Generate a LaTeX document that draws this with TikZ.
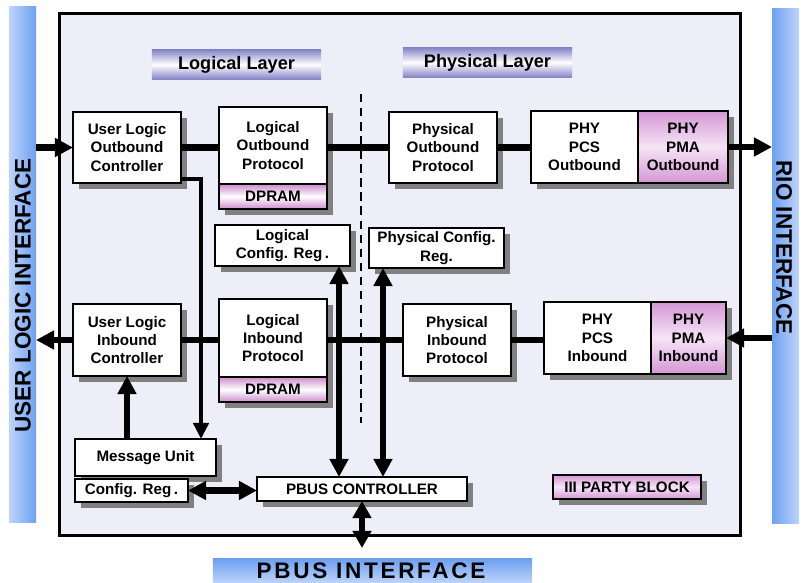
\documentclass[tikz,border=0pt]{standalone}
\usepackage{fontspec}
\setmainfont{Liberation Sans}
\usetikzlibrary{positioning,shadows,arrows.meta}

\definecolor{corebg}{RGB}{238,238,248}
\definecolor{barblue}{RGB}{110,160,240}
\definecolor{barlight}{RGB}{190,212,250}
\definecolor{layerblue}{RGB}{135,135,200}
\definecolor{rampink}{RGB}{205,140,205}
\definecolor{pmapink}{RGB}{212,150,212}
\definecolor{pmalight}{RGB}{246,228,246}
\definecolor{shadowgray}{RGB}{128,128,128}

\begin{document}
\begin{tikzpicture}[x=0.025cm, y=-0.025cm,
  font=\bfseries\fontsize{10.8}{13}\selectfont,
  >={Triangle[length=4.5mm,width=4.5mm]},
  blk/.style={draw, line width=1.2pt, fill=white, align=center, inner sep=1pt, outer sep=0pt,
    drop shadow={shadow xshift=1.5mm, shadow yshift=-1.5mm, fill=shadowgray, opacity=1}},
  proto/.style={blk, minimum width=2.7cm, minimum height=1.8cm},
  ram/.style={blk, top color=rampink, bottom color=rampink, middle color=white,
    minimum width=2.7cm, minimum height=0.625cm},
  pma/.style={blk, top color=pmapink, bottom color=pmapink, middle color=pmalight,
    minimum height=1.8cm},
  layer/.style={inner sep=0pt, top color=layerblue, bottom color=layerblue, middle color=white,
    minimum width=4.225cm, minimum height=0.725cm, font=\bfseries\fontsize{12.9}{15}\selectfont},
  bar/.style={inner sep=0pt, outer sep=0pt},
  barlabel/.style={font=\bfseries\fontsize{16}{19}\selectfont},
  link/.style={line width=4.3pt},
  feed/.style={line width=2.8pt, >={Triangle[length=4mm,width=3.8mm]}}]
\useasboundingbox (0,0) rectangle (804,583);

% interfaces round the core
\node (ulbar) [bar, left color=barlight, middle color=white!50!barlight, right color=barblue,
  minimum width=0.675cm, minimum height=12.875cm] at (22.5,264.5) {};
\node (ullabel) [barlabel, rotate=90] at (23,295.5) {USER LOGIC INTERFACE};
\node (riobar) [bar, left color=barblue, middle color=white!50!barlight, right color=barlight,
  minimum width=0.675cm, minimum height=12.85cm] at (785.5,266) {};
\node (riolabel) [barlabel, rotate=-90] at (784,247.5) {RIO INTERFACE};
\node (pbusbar) [bar, top color=barblue, middle color=white, bottom color=barlight,
  minimum width=7.975cm, minimum height=0.6cm] at (372.5,571) {};
\node (pbuslabel) [barlabel] at (371,571) {\addfontfeature{LetterSpace=12}PBUS INTERFACE};

% core
\node (core) [draw, line width=2.2pt, fill=corebg, minimum width=17cm, minimum height=13.025cm]
  at (400,274.5) {};
\node (loglayer) [layer] at (236.5,64.5) {Logical Layer};
\node (phylayer) [layer] at (487.5,62.5) {Physical Layer};
\coordinate (divtop) at (361,94);
\coordinate (divbot) at (361,423);
\draw[dashed, line width=0.9pt, dash pattern=on 6pt off 4pt] (divtop) -- (divbot);

% outbound path
\node (uloc) [proto, minimum height=1.775cm] at (127,147.5) {User Logic\\Outbound\\Controller};
\node (lop) [proto, minimum height=1.925cm] at (273,145.5) {Logical\\Outbound\\Protocol};
\node (ramout) [ram, below=0pt of lop] {DPRAM};
\node (pop) [proto, minimum height=1.775cm] at (443,147.5) {Physical\\Outbound\\Protocol};
\node (pcsout) [proto, minimum width=2.675cm] at (584.5,147) {PHY\\PCS\\Outbound};
\node (pmaout) [pma, minimum width=2.25cm, right=0pt of pcsout] {PHY\\PMA\\Outbound};

% config registers
\node (lcr) [blk, minimum width=3.375cm, minimum height=1.025cm] at (282.5,245.5) {Logical\\Config. Reg\,.};
\node (pcr) [blk, minimum width=3.375cm, minimum height=1cm] at (436.5,248) {Physical Config.\\Reg.};

% inbound path
\node (ulic) [proto] at (127,340) {User Logic\\Inbound\\Controller};
\node (lip) [proto, minimum height=1.95cm] at (273,338) {Logical\\Inbound\\Protocol};
\node (ramin) [ram, below=0pt of lip] {DPRAM};
\node (pip) [proto] at (457,340) {Physical\\Inbound\\Protocol};
\node (pcsin) [proto, minimum width=2.675cm] at (597.5,338) {PHY\\PCS\\Inbound};
\node (pmain) [pma, minimum width=1.875cm, right=0pt of pcsin] {PHY\\PMA\\Inbound};

% bottom row
\node (mu) [blk, minimum width=3.525cm, minimum height=0.925cm] at (145.5,457.5) {Message Unit};
\node (cr) [blk, minimum width=2.825cm, minimum height=0.575cm, below right=0.75mm and 0mm of mu.south west]
  {Config. Reg\,.};
\node (pbus) [blk, minimum width=5.25cm, minimum height=0.6cm] at (362,489) {PBUS CONTROLLER};
\node (third) [blk, top color=pmapink, bottom color=pmapink, middle color=pmalight,
  minimum width=3.7cm, minimum height=0.6cm] at (627,487) {III PARTY BLOCK};

% data paths
\draw[link,->] (ulbar.east |- uloc.west) -- (uloc.west);
\draw[link] (uloc.east) -- (uloc.east -| lop.west);
\draw[link] (lop.east |- pop.west) -- (pop.west);
\draw[link] (pop.east) -- (pop.east -| pcsout.west);
\draw[link,->] (pmaout.east) -- (pmaout.east -| riobar.west);
\draw[link,->] (ulic.west) -- (ulic.west -| ulbar.east);
\draw[link] (ulic.east) -- (ulic.east -| lip.west);
\draw[link] (lip.east |- pip.west) -- (pip.west);
\draw[link] (pip.east) -- (pip.east -| pcsin.west);
\draw[link,->] (riobar.west |- pmain.east) -- (pmain.east);

% control paths
\draw[feed,->] ([yshift=1mm]uloc.south east) -| ([xshift=-3.75mm]mu.north east);
\draw[link,->] (mu.north -| ulic.south) -- (ulic.south);
\draw[link,<->] (cr.east) -- (cr.east -| pbus.west);
\coordinate (lcrport) at ([xshift=-2.75mm]lcr.south east);
\coordinate (pcrport) at ([xshift=3.5mm]pcr.south west);
\draw[link,<->] (lcrport) -- (lcrport |- pbus.north);
\draw[link,<->] (pcrport) -- (pcrport |- pbus.north);
\draw[link,<->,>={Triangle[length=4.25mm,width=4.5mm]}, shorten >=2.75mm]
  (pbus.south) -- (pbus.south |- pbusbar.north);
\end{tikzpicture}
\end{document}
